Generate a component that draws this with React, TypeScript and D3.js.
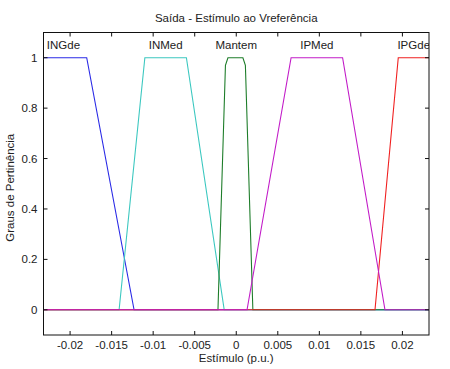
import React from "react";
import * as d3 from "d3";

const W = 450;
const H = 369;
const margin = { left: 43.5, right: 21, top: 32.5, bottom: 34 };

const title = "Saída - Estímulo ao Vreferência";
const xLabel = "Estímulo (p.u.)";
const yLabel = "Graus de Pertinência";

const xDomain = [-0.0232, 0.0232];
const yDomain = [-0.1, 1.1];
const xTicks = [-0.02, -0.015, -0.01, -0.005, 0, 0.005, 0.01, 0.015, 0.02];
const xTickLabels = ["-0.02", "-0.015", "-0.01", "-0.005", "0", "0.005", "0.01", "0.015", "0.02"];
const yTicks = [0, 0.2, 0.4, 0.6, 0.8, 1];
const yTickLabels = ["0", "0.2", "0.4", "0.6", "0.8", "1"];

// membership functions (breakpoints)
const mfNames = ["INGde", "INMed", "Mantem", "IPMed", "IPGde"];
const ingX = [-0.0232, -0.018, -0.0123, 0.0232];
const ingY = [1, 1, 0, 0];
const inmX = [-0.0232, -0.0141, -0.011, -0.006, -0.00145, 0.0232];
const inmY = [0, 0, 1, 1, 0, 0];
const manX = [-0.0232, -0.0022, -0.0013, -0.001, 0.0008, 0.0011, 0.002, 0.0232];
const manY = [0, 0, 0.97, 1, 1, 0.97, 0, 0];
const ipmX = [-0.0232, 0.0013, 0.0066, 0.0128, 0.0179, 0.0232];
const ipmY = [0, 0, 1, 1, 0, 0];
const ipgX = [-0.0232, 0.0167, 0.0195, 0.0232];
const ipgY = [0, 0, 1, 1];
const mfColors = ["#2a2ae6", "#3cc8c0", "#1e7d2a", "#c21cc8", "#f02020"];
const labelX = [-0.0228, -0.0085, 0, 0.0097, 0.0194];
const labelAnchor = ["start", "middle", "middle", "middle", "start"];

const mfXs = [ingX, inmX, manX, ipmX, ipgX];
const mfYs = [ingY, inmY, manY, ipmY, ipgY];
const drawOrder = [0, 1, 2, 4, 3];

export default function App() {
  const x = d3.scaleLinear().domain(xDomain).range([margin.left, W - margin.right]);
  const y = d3.scaleLinear().domain(yDomain).range([H - margin.bottom, margin.top]);
  const line = d3
    .line<[number, number]>()
    .x((d) => x(d[0]))
    .y((d) => y(d[1]));
  const x0 = margin.left;
  const x1 = W - margin.right;
  const y0 = H - margin.bottom;
  const y1 = margin.top;
  const font = "Arial, 'Liberation Sans', sans-serif";
  const tl = 4;
  const fs = 11.5;
  return (
    <svg
      width={W}
      height={H}
      style={{ position: "absolute", left: 0, top: 0, background: "#fff" }}
      fontFamily={font}
    >
      <defs>
        <clipPath id="plotclip">
          <rect x={x0} y={y1} width={x1 - x0} height={y0 - y1} />
        </clipPath>
      </defs>
      <rect x={0} y={0} width={W} height={H} fill="#fff" />
      <g clipPath="url(#plotclip)">
        {drawOrder.map((i) => (
          <path
            key={mfNames[i]}
            d={line(mfXs[i].map((v, k) => [v, mfYs[i][k]]) as [number, number][]) || ""}
            fill="none"
            stroke={mfColors[i]}
            strokeWidth={1.1}
          />
        ))}
        {mfNames.map((n, i) => (
          <text
            key={n}
            x={x(labelX[i])}
            y={y(1) - 9}
            fontSize={fs}
            fill="#222"
            textAnchor={labelAnchor[i] as any}
          >
            {n}
          </text>
        ))}
      </g>
      <rect x={x0} y={y1} width={x1 - x0} height={y0 - y1} fill="none" stroke="#111" strokeWidth={1} />
      {xTicks.map((t, i) => (
        <g key={"xt" + i}>
          <line x1={x(t)} x2={x(t)} y1={y0} y2={y0 - tl} stroke="#111" />
          <line x1={x(t)} x2={x(t)} y1={y1} y2={y1 + tl} stroke="#111" />
          <text x={x(t)} y={y0 + 14} fontSize={fs} textAnchor="middle" fill="#222">
            {xTickLabels[i]}
          </text>
        </g>
      ))}
      {yTicks.map((t, i) => (
        <g key={"yt" + i}>
          <line x1={x0} x2={x0 + tl} y1={y(t)} y2={y(t)} stroke="#111" />
          <line x1={x1} x2={x1 - tl} y1={y(t)} y2={y(t)} stroke="#111" />
          <text x={x0 - 6} y={y(t) + 4} fontSize={fs} textAnchor="end" fill="#222">
            {yTickLabels[i]}
          </text>
        </g>
      ))}
      <text x={(x0 + x1) / 2} y={22} fontSize={fs} textAnchor="middle" fill="#222">
        {title}
      </text>
      <text x={(x0 + x1) / 2} y={362} fontSize={fs} textAnchor="middle" fill="#222">
        {xLabel}
      </text>
      <text
        transform={`translate(14, ${(y0 + y1) / 2 + 4}) rotate(-90)`}
        fontSize={fs}
        textAnchor="middle"
        fill="#222"
      >
        {yLabel}
      </text>
    </svg>
  );
}
